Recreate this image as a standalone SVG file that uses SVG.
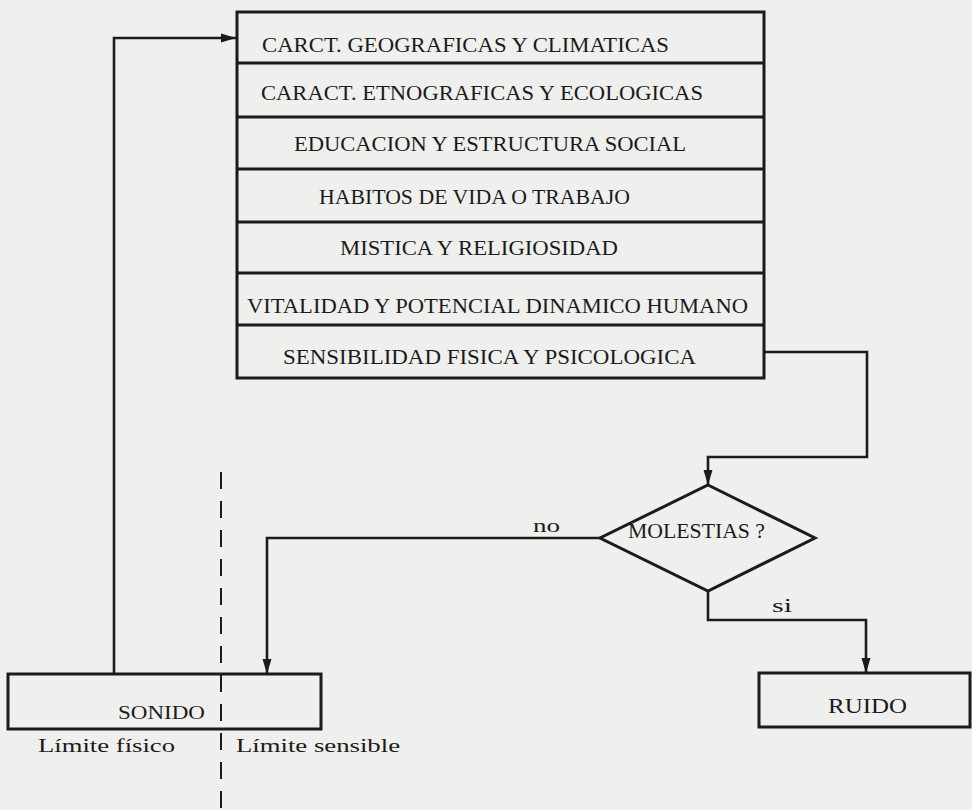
<svg xmlns="http://www.w3.org/2000/svg" width="972" height="810" viewBox="0 0 972 810">
<defs>
<style>
.bx{fill:none;stroke:#1b1b1b;stroke-width:3}
.ln{fill:none;stroke:#1b1b1b;stroke-width:2.6}
.t{font-family:"Liberation Serif","DejaVu Serif",serif;font-size:21px;fill:#1b1b1b}
.s{font-family:"Liberation Serif","DejaVu Serif",serif;font-size:19px;fill:#1b1b1b}
</style>
<marker id="ah" markerUnits="userSpaceOnUse" markerWidth="16" markerHeight="10" refX="15" refY="5" orient="auto">
<path d="M0,0.5 L15,5 L0,9.5 Z" fill="#1b1b1b"/>
</marker>
</defs>
<rect x="0" y="0" width="972" height="810" fill="#efefed"/>

<g id="factores">
<rect class="bx" x="237" y="12" width="527" height="366"/>
<line class="bx" x1="237" y1="63" x2="764" y2="63"/>
<line class="bx" x1="237" y1="117" x2="764" y2="117"/>
<line class="bx" x1="237" y1="169" x2="764" y2="169"/>
<line class="bx" x1="237" y1="222" x2="764" y2="222"/>
<line class="bx" x1="237" y1="273" x2="764" y2="273"/>
<line class="bx" x1="237" y1="325" x2="764" y2="325"/>
<text class="t" x="262" y="52" textLength="407" lengthAdjust="spacingAndGlyphs">CARCT. GEOGRAFICAS Y CLIMATICAS</text>
<text class="t" x="261" y="100" textLength="442" lengthAdjust="spacingAndGlyphs">CARACT. ETNOGRAFICAS Y ECOLOGICAS</text>
<text class="t" x="294" y="151" textLength="392" lengthAdjust="spacingAndGlyphs">EDUCACION Y ESTRUCTURA SOCIAL</text>
<text class="t" x="319" y="204" textLength="311" lengthAdjust="spacingAndGlyphs">HABITOS DE VIDA O TRABAJO</text>
<text class="t" x="340" y="255" textLength="278" lengthAdjust="spacingAndGlyphs">MISTICA Y RELIGIOSIDAD</text>
<text class="t" x="247" y="313" textLength="501" lengthAdjust="spacingAndGlyphs">VITALIDAD Y POTENCIAL DINAMICO HUMANO</text>
<text class="t" x="283" y="364" textLength="413" lengthAdjust="spacingAndGlyphs">SENSIBILIDAD FISICA Y PSICOLOGICA</text>
</g>

<g id="molestias">
<polygon class="bx" points="708,485 815,538 708,591 600,538"/>
<text class="t" x="628" y="538" font-size="20" textLength="137" lengthAdjust="spacingAndGlyphs">MOLESTIAS ?</text>
</g>

<g id="sonido">
<rect class="bx" x="8" y="674" width="313" height="55"/>
<text class="s" x="118" y="719" textLength="87" lengthAdjust="spacingAndGlyphs">SONIDO</text>
</g>

<g id="ruido">
<rect class="bx" x="759" y="673" width="211" height="54"/>
<text class="t" x="828" y="713" font-size="20" textLength="79" lengthAdjust="spacingAndGlyphs">RUIDO</text>
</g>

<g id="limite">
<line x1="221" y1="472" x2="221" y2="810" stroke="#1b1b1b" stroke-width="2" stroke-dasharray="17 12"/>
<text class="s" x="38" y="752" textLength="137" lengthAdjust="spacingAndGlyphs">Límite físico</text>
<text class="s" x="236" y="752" textLength="164" lengthAdjust="spacingAndGlyphs">Límite sensible</text>
</g>

<g id="connectors">
<path class="ln" d="M114,674 V38 H236" marker-end="url(#ah)"/>
<path class="ln" d="M764,352 H867 V457 H708 V485" marker-end="url(#ah)"/>
<path class="ln" d="M600,538 H267 V674" marker-end="url(#ah)"/>
<path class="ln" d="M708,591 V620 H866 V673" marker-end="url(#ah)"/>
<text class="s" x="533" y="532" textLength="27" lengthAdjust="spacingAndGlyphs">no</text>
<text class="s" x="772" y="612" textLength="20" lengthAdjust="spacingAndGlyphs">si</text>
</g>
</svg>
